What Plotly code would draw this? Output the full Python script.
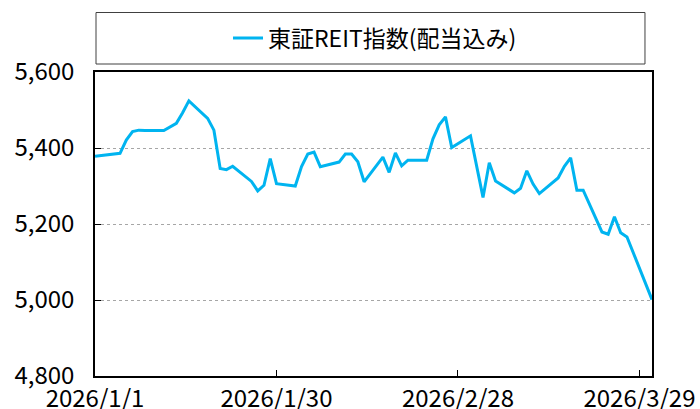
import plotly.graph_objects as go

dates = [
    "2026-01-01", "2026-01-05", "2026-01-06", "2026-01-07", "2026-01-08", "2026-01-09",
    "2026-01-12", "2026-01-13", "2026-01-14", "2026-01-15", "2026-01-16",
    "2026-01-19", "2026-01-20", "2026-01-21", "2026-01-22", "2026-01-23",
    "2026-01-26", "2026-01-27", "2026-01-28", "2026-01-29", "2026-01-30",
    "2026-02-02", "2026-02-03", "2026-02-04", "2026-02-05", "2026-02-06",
    "2026-02-09", "2026-02-10", "2026-02-11", "2026-02-12", "2026-02-13",
    "2026-02-16", "2026-02-17", "2026-02-18", "2026-02-19", "2026-02-20",
    "2026-02-23", "2026-02-24", "2026-02-25", "2026-02-26", "2026-02-27",
    "2026-03-02", "2026-03-03", "2026-03-04", "2026-03-05", "2026-03-06",
    "2026-03-09", "2026-03-10", "2026-03-11", "2026-03-12", "2026-03-13",
    "2026-03-16", "2026-03-17", "2026-03-18", "2026-03-19", "2026-03-20",
    "2026-03-23", "2026-03-24", "2026-03-25", "2026-03-26", "2026-03-27",
    "2026-03-30", "2026-03-31",
]
values = [
    5378, 5386, 5421, 5443, 5447, 5446,
    5446, 5455, 5465, 5493, 5524,
    5478, 5447, 5346, 5343, 5352,
    5312, 5287, 5302, 5372, 5306,
    5300, 5351, 5384, 5389, 5351,
    5363, 5384, 5384, 5364, 5311,
    5376, 5336, 5387, 5353, 5368,
    5368, 5424, 5461, 5482, 5401,
    5432, 5350, 5270, 5361, 5313,
    5282, 5294, 5340, 5305, 5280,
    5321, 5352, 5374, 5289, 5289,
    5179, 5173, 5219, 5177, 5166,
    5040, 5001,
]
series_name = "東証REIT指数(配当込み)"
x_tickvals = ["2026-01-01", "2026-01-30", "2026-02-28", "2026-03-29"]
x_ticktext = ["2026/1/1", "2026/1/30", "2026/2/28", "2026/3/29"]
y_tickvals = [4800, 5000, 5200, 5400, 5600]

FONT = "Noto Sans CJK JP"

fig = go.Figure()
fig.add_trace(go.Scatter(
    x=dates, y=values, mode="lines", name=series_name,
    line=dict(color="#00B4F0", width=3),
))

fig.update_layout(
    width=700, height=409,
    margin=dict(l=95, r=48, t=72, b=33, autoexpand=False),
    paper_bgcolor="white", plot_bgcolor="white",
    font=dict(family=FONT, color="black", size=22),
    showlegend=True,
    legend=dict(
        orientation="h", x=0.5027, y=1.112, xanchor="center", yanchor="middle",
        font=dict(family=FONT, size=23, color="black"),
        bgcolor="rgba(0,0,0,0)", borderwidth=0,
    ),
    shapes=[dict(
        type="rect", xref="paper", yref="paper",
        x0=0.0018, x1=0.9874, y0=1.0263, y1=1.1957,
        line=dict(color="#404040", width=1), fillcolor="rgba(0,0,0,0)",
    )],
)

fig.update_xaxes(
    type="date", range=["2026-01-01", "2026-03-31"],
    tickvals=x_tickvals, ticktext=x_ticktext, automargin=False,
    showgrid=False, zeroline=False,
    showline=True, linecolor="black", linewidth=1.5, mirror=True,
    ticks="inside", ticklen=6, tickcolor="black", tickwidth=1,
    tickfont=dict(family=FONT, size=24, color="black"),
    ticklabelstandoff=0,
)
fig.update_yaxes(
    range=[4800, 5600], tickvals=y_tickvals, tickformat=",", automargin=False,
    showgrid=True, gridcolor="#A6A6A6", gridwidth=1, griddash="dot",
    zeroline=False,
    showline=True, linecolor="black", linewidth=1.5, mirror=True,
    ticks="inside", ticklen=6, tickcolor="black", tickwidth=1,
    tickfont=dict(family=FONT, size=24, color="black"),
    ticklabelstandoff=14,
)

fig.write_html(
    "out.html",
    config={"displayModeBar": False},
    post_script="document.body.style.margin='0';document.body.style.overflow='hidden';",
)
